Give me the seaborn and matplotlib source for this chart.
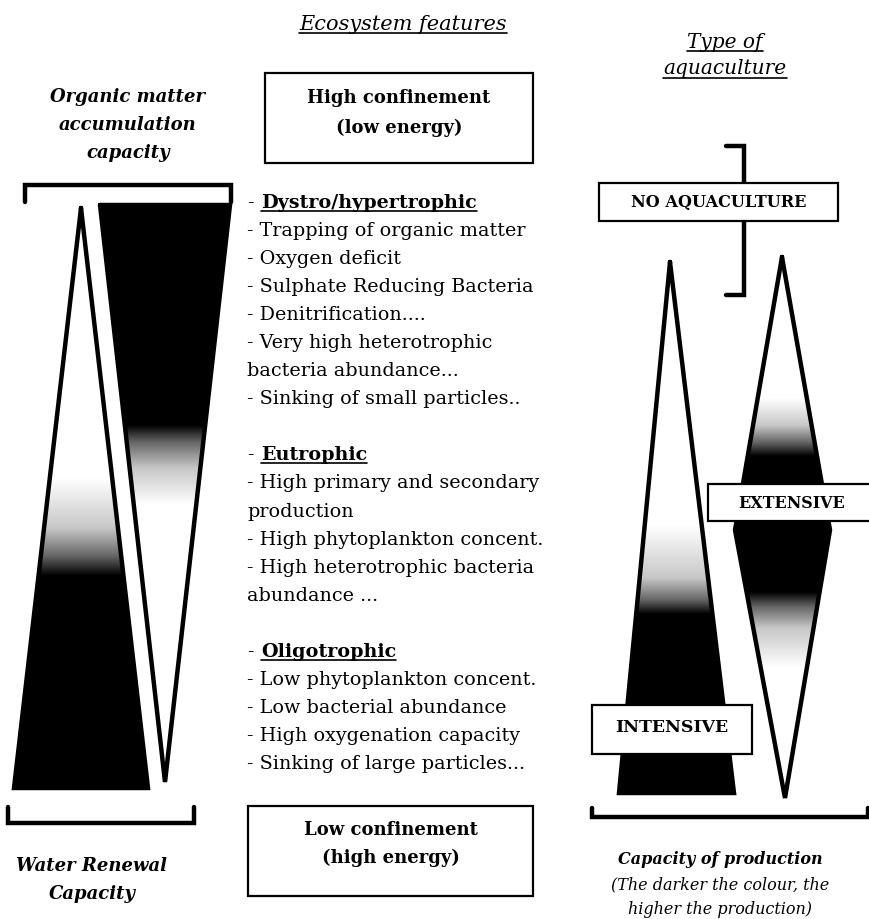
import numpy as np
import pandas as pd
import matplotlib
matplotlib.use("Agg")
import matplotlib.pyplot as plt
from matplotlib.patches import Polygon, Rectangle
import seaborn as sns

# ---- shapes (figure pixels, y grows downwards) ----
renewal_x = [81, 148, 14]
renewal_y = [208, 788, 788]
accum_x = [100, 230, 165]
accum_y = [205, 205, 782]
intensive_x = [670, 734, 619]
intensive_y = [262, 793, 793]
extensive_x = [782, 830, 785, 735]
extensive_y = [257, 530, 798, 530]

# darkness along y (0 = white, 1 = black)
renewal_stop_y = [478, 528, 556, 576]
renewal_stop_v = [0.0, 0.22, 0.6, 1.0]
accum_stop_y = [425, 442, 468, 505]
accum_stop_v = [1.0, 0.6, 0.22, 0.0]
intensive_stop_y = [525, 578, 600, 614]
intensive_stop_v = [0.0, 0.22, 0.6, 1.0]
extensive_stop_y = [398, 425, 442, 456, 592, 607, 628, 668]
extensive_stop_v = [0.0, 0.22, 0.6, 1.0, 1.0, 0.6, 0.22, 0.0]

# ---- texts ----
feature_lines = [
    "Dystro/hypertrophic",
    "- Trapping of organic matter",
    "- Oxygen deficit",
    "- Sulphate Reducing Bacteria",
    "- Denitrification....",
    "- Very high heterotrophic",
    "bacteria abundance...",
    "- Sinking of small particles..",
    "",
    "Eutrophic",
    "- High primary and secondary",
    "production",
    "- High phytoplankton concent.",
    "- High heterotrophic bacteria",
    "abundance ...",
    "",
    "Oligotrophic",
    "- Low phytoplankton concent.",
    "- Low bacterial abundance",
    "- High oxygenation capacity",
    "- Sinking of large particles...",
]
feature_headers = ["Dystro/hypertrophic", "Eutrophic", "Oligotrophic"]

sns.set_theme(style="white")
plt.rcParams['font.family'] = ['DejaVu Serif']
plt.rcParams['text.color'] = 'black'

fig = plt.figure(figsize=(8.7, 9.19), dpi=100)
ax = fig.add_axes([0, 0, 1, 1])

LW = 3.2


def outline(xs, ys, lw=LW):
    d = pd.DataFrame({"x": list(xs) + [xs[0]], "y": list(ys) + [ys[0]]})
    sns.lineplot(data=d, x="x", y="y", sort=False, estimator=None, color="black",
                 lw=lw, ax=ax, solid_joinstyle="miter", zorder=2)


def path(xs, ys, lw=LW):
    d = pd.DataFrame({"x": xs, "y": ys})
    sns.lineplot(data=d, x="x", y="y", sort=False, estimator=None, color="black",
                 lw=lw, ax=ax, solid_joinstyle="miter", zorder=2)


def shade(xs, ys, sy, sv):
    poly = Polygon(np.column_stack([xs, ys]), closed=True, fc="none", ec="none",
                   transform=ax.transData)
    ax.add_patch(poly)
    y0, y1 = min(ys), max(ys)
    rows = np.arange(y0, y1 + 1)
    vals = np.interp(rows, sy, sv)
    img = np.tile(vals[:, None], (1, 2))
    im = ax.imshow(img, cmap="gray_r", vmin=0, vmax=1, aspect="auto",
                   extent=(min(xs), max(xs), y1, y0), interpolation="bilinear", zorder=1)
    im.set_clip_path(poly)


shade(renewal_x, renewal_y, renewal_stop_y, renewal_stop_v)
shade(accum_x, accum_y, accum_stop_y, accum_stop_v)
shade(intensive_x, intensive_y, intensive_stop_y, intensive_stop_v)
shade(extensive_x, extensive_y, extensive_stop_y, extensive_stop_v)
outline(renewal_x, renewal_y)
outline(accum_x, accum_y)
outline(intensive_x, intensive_y)
outline(extensive_x, extensive_y)

# brackets
path([25, 25, 231, 231], [202, 185, 185, 202])
path([8, 8, 194, 194], [807, 823, 823, 807])
path([592, 592, 868, 868], [808, 817, 817, 808])
path([726, 744, 744, 726], [146, 146, 295, 295])


def box(x0, y0, x1, y1):
    ax.add_patch(Rectangle((x0, y0), x1 - x0, y1 - y0, fc="white", ec="black",
                           lw=1.6, zorder=3))


box(265, 73, 533, 163)
box(248, 806, 533, 896)
box(599, 183, 838, 221)
box(592, 705, 752, 754)
box(708, 484, 872, 521)

bold = dict(fontweight="bold", ha="center", va="center", zorder=4)
ax.text(399, 98, "High confinement", fontsize=13, **bold)
ax.text(399, 128, "(low energy)", fontsize=13, **bold)
ax.text(391, 830, "Low confinement", fontsize=13, **bold)
ax.text(391, 858, "(high energy)", fontsize=13, **bold)
ax.text(719, 203, "NO AQUACULTURE", fontsize=11.6, **bold)
ax.text(672, 727, "INTENSIVE", fontsize=12.5, **bold)
ax.text(792, 503, "EXTENSIVE", fontsize=11.4, **bold)

bi = dict(fontweight="bold", style="italic", ha="center", va="center")
for i, s in enumerate(["Organic matter", "accumulation", "capacity"]):
    ax.text(128, 97 + 28 * i, s, fontsize=13, **bi)
ax.text(92, 866, "Water Renewal", fontsize=13, **bi)
ax.text(92, 894, "Capacity", fontsize=13, **bi)
ax.text(720, 860, "Capacity of production", fontsize=11.5, **bi)
it = dict(style="italic", ha="center", va="center")
ax.text(720, 885, "(The darker the colour, the", fontsize=11.5, **it)
ax.text(720, 910, "higher the production)", fontsize=11.5, **it)

under = []
under.append(ax.text(403, 24, "Ecosystem features", fontsize=15, **it))
under.append(ax.text(725, 42, "Type of", fontsize=14.5, **it))
under.append(ax.text(725, 69, "aquaculture", fontsize=14.5, **it))

for i, s in enumerate(feature_lines):
    y = 203 + 28.05 * i
    if s in feature_headers:
        ax.text(247, y, "-", fontsize=13.8, va="center", ha="left")
        under.append(ax.text(261, y, s, fontsize=13.8, fontweight="bold",
                             va="center", ha="left"))
    elif s:
        ax.text(247, y, s, fontsize=13.8, va="center", ha="left")

ax.set_xlim(0, 870)
ax.set_ylim(919, 0)
ax.set_axis_off()

fig.canvas.draw()
inv = ax.transData.inverted()
for t in under:
    bb = t.get_window_extent().transformed(inv)
    yb = max(bb.y0, bb.y1) - 1
    ax.plot([bb.x0, bb.x1], [yb, yb], color="black", lw=1.2, zorder=4)

fig.savefig("out.png", dpi=100, facecolor="white")
